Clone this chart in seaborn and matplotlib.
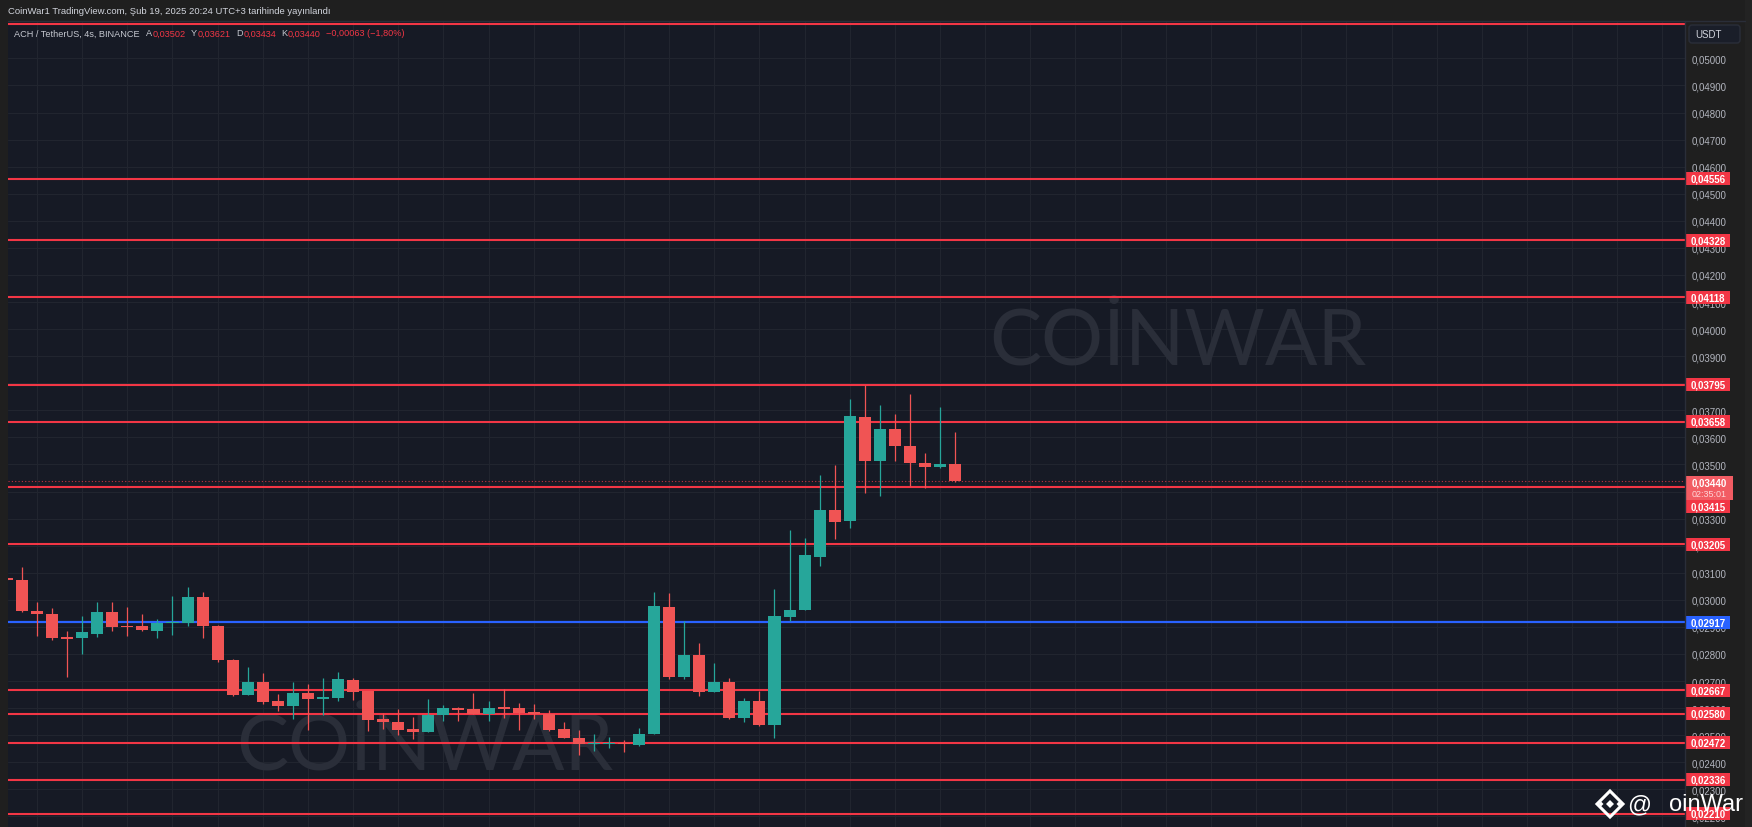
import numpy as np
import pandas as pd
import matplotlib
matplotlib.use("Agg")
import matplotlib.pyplot as plt
import matplotlib.transforms as mtransforms
from matplotlib.patches import Rectangle, FancyBboxPatch, Polygon
import seaborn as sns

# --- data (4h candles, ACH/USDT) ---
header = "CoinWar1 TradingView.com, Şub 19, 2025 20:24 UTC+3 tarihinde yayınlandı"
symbol = "ACH / TetherUS, 4s, BINANCE"
change_text = "\u22120,00063 (\u22121,80%)"
countdown = "02:35:01"

bar_index = list(range(-1, 63))
opens = [0.03078, 0.03075, 0.02960, 0.02948, 0.02862, 0.02859, 0.02875, 0.02954,
         0.02904, 0.02903, 0.02885, 0.02914, 0.02914, 0.03011, 0.02903, 0.02779,
         0.02650, 0.02696, 0.02626, 0.02607, 0.02656, 0.02633, 0.02639, 0.02704,
         0.02662, 0.02559, 0.02549, 0.02523, 0.02512, 0.02574, 0.02600, 0.02596,
         0.02578, 0.02603, 0.02601, 0.02585, 0.02578, 0.02523, 0.02490, 0.02467,
         0.02469, 0.02473, 0.02464, 0.02506, 0.02975, 0.02715, 0.02797, 0.02659,
         0.02696, 0.02565, 0.02626, 0.02538, 0.02936, 0.02962, 0.03160, 0.03332,
         0.03290, 0.03677, 0.03514, 0.03630, 0.03568, 0.03507, 0.03491, 0.03502]
highs = [0.03082, 0.03121, 0.02993, 0.02970, 0.02885, 0.02941, 0.02993, 0.02993,
         0.02975, 0.02949, 0.02929, 0.03013, 0.03049, 0.03030, 0.02907, 0.02782,
         0.02751, 0.02729, 0.02651, 0.02698, 0.02689, 0.02713, 0.02735, 0.02711,
         0.02665, 0.02582, 0.02597, 0.02566, 0.02633, 0.02612, 0.02606, 0.02656,
         0.02628, 0.02670, 0.02618, 0.02616, 0.02593, 0.02547, 0.02521, 0.02505,
         0.02495, 0.02483, 0.02527, 0.03029, 0.03024, 0.02922, 0.02841, 0.02767,
         0.02712, 0.02638, 0.02665, 0.03040, 0.03259, 0.03229, 0.03462, 0.03498,
         0.03742, 0.03792, 0.03721, 0.03687, 0.03760, 0.03543, 0.03711, 0.03621]
lows = [0.03072, 0.02956, 0.02868, 0.02853, 0.02714, 0.02800, 0.02864, 0.02885,
        0.02868, 0.02885, 0.02859, 0.02872, 0.02905, 0.02860, 0.02772, 0.02644,
        0.02649, 0.02614, 0.02591, 0.02560, 0.02521, 0.02576, 0.02627, 0.02631,
        0.02516, 0.02523, 0.02499, 0.02486, 0.02511, 0.02554, 0.02554, 0.02577,
        0.02554, 0.02564, 0.02521, 0.02560, 0.02517, 0.02488, 0.02428, 0.02443,
        0.02453, 0.02439, 0.02462, 0.02505, 0.02707, 0.02708, 0.02646, 0.02658,
        0.02560, 0.02550, 0.02535, 0.02491, 0.02922, 0.02961, 0.03126, 0.03225,
        0.03266, 0.03395, 0.03384, 0.03514, 0.03422, 0.03414, 0.03487, 0.03434]
closes = [0.03075, 0.02958, 0.02947, 0.02858, 0.02857, 0.02881, 0.02954, 0.02900,
          0.02899, 0.02888, 0.02915, 0.02916, 0.03011, 0.02903, 0.02777, 0.02650,
          0.02696, 0.02624, 0.02607, 0.02656, 0.02633, 0.02640, 0.02708, 0.02659,
          0.02556, 0.02548, 0.02521, 0.02513, 0.02576, 0.02600, 0.02593, 0.02578,
          0.02600, 0.02598, 0.02582, 0.02578, 0.02518, 0.02489, 0.02467, 0.02470,
          0.02473, 0.02468, 0.02505, 0.02977, 0.02714, 0.02797, 0.02659, 0.02696,
          0.02565, 0.02626, 0.02538, 0.02939, 0.02963, 0.03166, 0.03331, 0.03287,
          0.03678, 0.03514, 0.03630, 0.03567, 0.03506, 0.03491, 0.03501, 0.03440]

red_levels = [0.05127, 0.04556, 0.04328, 0.04118, 0.03795, 0.03658, 0.03415,
              0.03205, 0.02667, 0.02580, 0.02472, 0.02336, 0.02210]
red_level_labelled = [False, True, True, True, True, True, True,
                      True, True, True, True, True, True]
blue_level = 0.02917
last_price = closes[-1]

BG = "#161a25"
FRAME = "#1f1f1f"
GRID = "#21252f"
UP = "#26a69a"
DOWN = "#f05454"
LEVEL_RED = "#f23645"
BLUE = "#2962ff"
AXIS_TXT = "#b2b5be"
LEGEND_GRAY = "#c5c8d0"

sns.set_theme(style="dark", rc={"axes.facecolor": BG, "figure.facecolor": FRAME})
plt.rcParams["font.family"] = ["Liberation Sans", "DejaVu Sans"]

W, H = 1752, 828
fig = plt.figure(figsize=(W / 100, H / 100), dpi=100)
plot_l, plot_r, plot_t = 8, 1685, 22
ax = fig.add_axes([plot_l / W, 0, (plot_r - plot_l) / W, (H - plot_t) / H])
ax.set_facecolor(BG)

ymin, ymax = 0.02161, 0.05138
ax.set_xlim(-0.93, 110.5)
ax.set_ylim(ymin, ymax)
ppx = (ymax - ymin) / (H - plot_t)           # price per pixel
axw = plot_r - plot_l

# watermarks
wm = dict(transform=ax.transAxes, fontsize=56, color="#2a2e39", family=["Lato", "DejaVu Sans"],
          ha="center", va="center", zorder=1)
ax.text(0.6977, 0.6017, "COİNWAR", **wm)
ax.text(0.2487, 0.0993, "COİNWAR", **wm)

# candles
df = pd.DataFrame({"i": bar_index, "o": opens, "h": highs, "l": lows, "c": closes})
df["up"] = df["c"] >= df["o"]
df["bottom"] = df[["o", "c"]].min(axis=1)
df["height"] = (df["c"] - df["o"]).abs().clip(lower=0.00004)
colors = np.where(df["up"], UP, DOWN)
ax.vlines(df["i"], df["l"], df["h"], colors=colors, lw=0.9, zorder=4)
ax.bar(df["i"], df["height"], bottom=df["bottom"], width=0.8, color=colors,
       linewidth=0, zorder=5)

# horizontal levels
for p in red_levels:
    ax.axhline(p, color=LEVEL_RED, lw=1.5, zorder=3)
ax.axhline(blue_level, color=BLUE, lw=1.6, zorder=3)
ax.axhline(last_price, color=LEVEL_RED, lw=0.8, ls=(0, (1, 2)), alpha=0.8, zorder=3)

# axes styling
ticks = np.round(np.arange(0.022, 0.0505, 0.001), 3)
ax.yaxis.tick_right()
ax.set_yticks(ticks)
ax.set_yticklabels([f"{t:.5f}".replace(".", ",") for t in ticks])
ax.set_xticks(np.arange(1, 111, 3))
ax.tick_params(axis="y", length=0, pad=5, labelcolor=AXIS_TXT, labelsize=7)
ax.tick_params(axis="x", length=0, labelbottom=False)
ax.grid(True, color=GRID, lw=0.8)
for s in ax.spines.values():
    s.set_visible(False)

trans = mtransforms.blended_transform_factory(ax.transAxes, ax.transData)
x0 = 1 + 1 / axw


def fmt(v):
    return f"{v:.5f}".replace(".", ",")


def price_tag(yc, text, face, w=44, h=13):
    ax.add_patch(Rectangle((x0, yc - h / 2 * ppx), w / axw, h * ppx, transform=trans,
                           facecolor=face, edgecolor="none", clip_on=False, zorder=10))
    ax.text(x0 + w / 2 / axw, yc, text, transform=trans, ha="center", va="center",
            color="white", fontsize=7, fontweight="bold", clip_on=False, zorder=11)


for p, lab in zip(red_levels, red_level_labelled):
    if not lab:
        continue
    if p == 0.03415:
        price_tag(last_price - 26 * ppx, fmt(p), LEVEL_RED)
    else:
        price_tag(p, fmt(p), LEVEL_RED)
price_tag(blue_level, fmt(blue_level), BLUE)

# current price tag with countdown
top = last_price + 5 * ppx
ax.add_patch(Rectangle((x0, top - 24 * ppx), 47 / axw, 24 * ppx, transform=trans,
                       facecolor="#f25c63", edgecolor="none", clip_on=False, zorder=12))
ax.text(x0 + 23.5 / axw, top - 7 * ppx, fmt(last_price), transform=trans, ha="center",
        va="center", color="white", fontsize=7, fontweight="bold", clip_on=False, zorder=13)
ax.text(x0 + 23.5 / axw, top - 18 * ppx, countdown, transform=trans, ha="center",
        va="center", color="#ffd6d8", fontsize=6.5, clip_on=False, zorder=13)

# overlay in pixel coordinates for frame, header and signature
ov = fig.add_axes([0, 0, 1, 1])
ov.set_xlim(0, W)
ov.set_ylim(H, 0)
ov.axis("off")
ov.patch.set_alpha(0)
ov.set_zorder(20)
ov.add_patch(Rectangle((0, 0), W, plot_t, facecolor=FRAME, edgecolor="none"))
ov.add_patch(Rectangle((0, 0), plot_l, H, facecolor=FRAME, edgecolor="none"))
ov.add_patch(Rectangle((1745, 0), W - 1745, H, facecolor="#232323", edgecolor="none"))
ov.plot([plot_r, plot_r], [plot_t, H], color="#2a2e39", lw=1)
ov.plot([plot_l, 1745], [plot_t, plot_t], color="#2a2e39", lw=1)

ov.text(8, 11.5, header, color="#d1d4dc", fontsize=6.8, va="center", ha="left")

# legend line: symbol, then OHLC letters (gray) and values (red), chained by measured width
legend_parts = [(symbol, LEGEND_GRAY, 6.0),
                ("A", LEGEND_GRAY, 0.3), (fmt(opens[-1]), LEVEL_RED, 5.5),
                ("Y", LEGEND_GRAY, 0.3), (fmt(highs[-1]), LEVEL_RED, 5.5),
                ("D", LEGEND_GRAY, 0.3), (fmt(lows[-1]), LEVEL_RED, 5.5),
                ("K", LEGEND_GRAY, 0.3), (fmt(closes[-1]), LEVEL_RED, 5.5),
                (change_text, LEVEL_RED, 0)]
renderer = fig.canvas.get_renderer()
x = 14.5
for t, c, gap in legend_parts:
    txt = ov.text(x, 34, t, color=c, fontsize=6.6, va="center", ha="left")
    x += txt.get_window_extent(renderer).width + gap

ov.add_patch(FancyBboxPatch((1689, 26), 51, 18, boxstyle="round,pad=0,rounding_size=3",
                            facecolor="#1a1e29", edgecolor="#2a2e39", lw=1))
ov.text(1695, 35.5, "USDT", color="#d1d4dc", fontsize=7, va="center", ha="left")

# binance-like logo + handle
cx, cy = 1610, 805
ov.add_patch(Polygon([[cx - 13, cy], [cx, cy - 13], [cx + 13, cy], [cx, cy + 13]], closed=True,
                     fill=False, edgecolor="white", lw=2.2))
ov.add_patch(Polygon([[cx - 4, cy], [cx, cy - 4], [cx + 4, cy], [cx, cy + 4]], closed=True,
                     facecolor="white", edgecolor="none"))
for dx in (-9, 9):
    ov.add_patch(Polygon([[cx + dx - 2.5, cy], [cx + dx, cy - 2.5], [cx + dx + 2.5, cy],
                          [cx + dx, cy + 2.5]], closed=True, facecolor="white", edgecolor="none"))
ov.text(1627, 805, "@", color="white", fontsize=17, va="center", ha="left")
ov.text(1669, 805, "oinWar", color="white", fontsize=17, va="center", ha="left")

fig.savefig("out.png", dpi=100, facecolor=fig.get_facecolor())
